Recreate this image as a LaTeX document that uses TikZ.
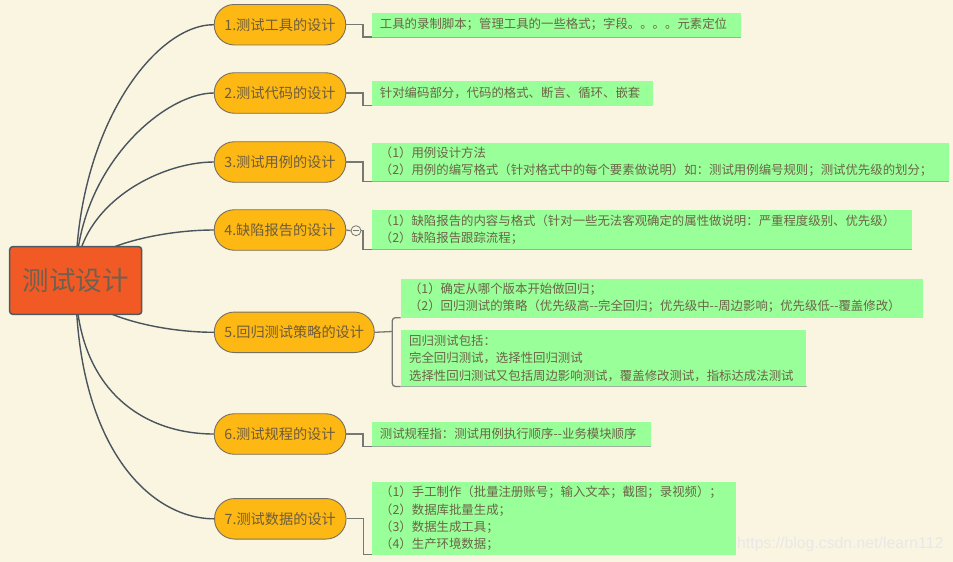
\documentclass[tikz,border=0pt]{standalone}
\usepackage{fontspec}
\setmainfont{Noto Sans CJK SC}
\newfontfamily\wmfont{Liberation Sans}
\usetikzlibrary{calc}
\definecolor{bgc}{RGB}{250,245,224}
\definecolor{rootfill}{RGB}{241,90,36}
\definecolor{rootline}{RGB}{80,88,96}
\definecolor{roottxt}{RGB}{112,96,80}
\definecolor{pillfill}{RGB}{253,184,19}
\definecolor{pillline}{RGB}{120,112,95}
\definecolor{pilltxt}{RGB}{110,92,60}
\definecolor{boxfill}{RGB}{153,255,153}
\definecolor{boxtxt}{RGB}{108,100,72}
\definecolor{curvec}{RGB}{74,84,94}
\definecolor{elbowc}{RGB}{118,120,115}
\definecolor{boxbot}{RGB}{160,175,155}
\pgfdeclarelayer{back}
\pgfdeclarelayer{lines}
\pgfsetlayers{back,lines,main}
\tikzset{
  rootbox/.style={draw=rootline, line width=1.5pt, fill=rootfill, rounded corners=3pt,
    minimum width=132pt, minimum height=67.6pt, inner sep=0pt,
    font=\fontsize{26.5}{30}\selectfont, text=roottxt},
  pill/.style={draw=pillline, line width=0.9pt, fill=pillfill, rounded corners=20pt,
    minimum height=40.5pt, minimum width=131.5pt, inner sep=0pt,
    font=\fontsize{14.2}{17}\selectfont, text=pilltxt},
  gbox/.style={fill=boxfill, anchor=north west, inner xsep=8pt, inner ysep=0pt,
    align=left, font=\fontsize{12.4}{17.3}\selectfont, text=boxtxt},
  curveline/.style={draw=curvec, line width=1.4pt},
  elbow/.style={draw=elbowc, line width=1.3pt},
  bottomline/.style={draw=boxbot, line width=1.2pt},
}
\begin{document}
\begin{tikzpicture}[x=1pt,y=-1pt]
\begin{pgfonlayer}{back}
\fill[bgc] (0,0) rectangle (953,562);
\end{pgfonlayer}
\useasboundingbox (0,0) rectangle (953,562);

% root
\node[rootbox] (root) at (75.7,280.5) {测试设计};

% topics
\node[pill] (t1) at (280,24.7) {1.测试工具的设计};
\node[pill] (t2) at (280,93) {2.测试代码的设计};
\node[pill] (t3) at (280,162) {3.测试用例的设计};
\node[pill] (t4) at (280,230) {4.缺陷报告的设计};
\node[pill, minimum width=160pt] (t5) at (294.3,332.3) {5.回归测试策略的设计};
\node[pill] (t6) at (280,434) {6.测试规程的设计};
\node[pill] (t7) at (280.3,518.8) {7.测试数据的设计};

% detail boxes
\node[gbox, minimum width=369pt, minimum height=24.4pt, text width=353pt] (b1) at (371.7,12.3)
  {工具的录制脚本；管理工具的一些格式；字段。。。。元素定位};
\node[gbox, minimum width=281pt, minimum height=24.6pt, text width=265pt] (b2) at (371.7,80.7)
  {针对编码部分，代码的格式、断言、循环、嵌套};
\node[gbox, minimum width=577pt, minimum height=38.7pt, text width=561pt] (b3) at (371.7,142.3)
  {（1）用例设计方法\\（2）用例的编写格式（针对格式中的每个要素做说明）如：测试用例编号规则；测试优先级的划分；};
\node[gbox, minimum width=540pt, minimum height=39pt, text width=524pt] (b4) at (371.7,210)
  {（1）缺陷报告的内容与格式（针对一些无法客观确定的属性做说明：严重程度级别、优先级）\\（2）缺陷报告跟踪流程；};
\node[gbox, minimum width=522.3pt, minimum height=39pt, text width=506pt] (b5a) at (400.7,278.3)
  {（1）确定从哪个版本开始做回归；\\（2）回归测试的策略（优先级高{-}{-}完全回归；优先级中{-}{-}周边影响；优先级低{-}{-}覆盖修改）};
\node[gbox, minimum width=405.5pt, minimum height=56pt, text width=389pt] (b5b) at (400.7,330)
  {回归测试包括：\\完全回归测试，选择性回归测试\\选择性回归测试又包括周边影响测试，覆盖修改测试，指标达成法测试};
\node[gbox, minimum width=279pt, minimum height=24pt, text width=263pt] (b6) at (371.7,422)
  {测试规程指：测试用例执行顺序{-}{-}业务模块顺序};
\node[gbox, minimum width=363.6pt, minimum height=72.3pt, text width=347pt] (b7) at (371.7,482)
  {（1）手工制作（批量注册账号；输入文本；截图；录视频）；\\（2）数据库批量生成；\\（3）数据生成工具；\\（4）生产环境数据；};

% collapse marker
\node[circle, draw=elbowc, line width=0.8pt, fill=bgc, minimum size=10pt, inner sep=0pt] (c4) at (356,230.7) {};
\draw[draw=elbowc, line width=0.8pt] ([xshift=2.5pt]c4.west) -- ([xshift=-2.5pt]c4.east);

\coordinate (k5) at (392.3,331.5);

\begin{pgfonlayer}{lines}
% curves from root
\draw[curveline] (root.center) .. controls +(0,-150) and +(-60,0) .. (t1.west);
\draw[curveline] (root.center) .. controls +(0,-112) and +(-50,0) .. (t2.west);
\draw[curveline] (root.center) .. controls +(0,-75) and +(-55,0) .. (t3.west);
\draw[curveline] (root.center) .. controls +(0,-30) and +(-60,0) .. (t4.west);
\draw[curveline] (root.center) .. controls +(0,31) and +(-60,0) .. (t5.west);
\draw[curveline] (root.center) .. controls +(0,110) and +(-70,0) .. (t6.west);
\draw[curveline] (root.center) .. controls +(0,165) and +(-65,0) .. (t7.west);
% box bottoms
\foreach \b in {b1,b2,b3,b4,b5a,b5b,b6,b7}
  \draw[bottomline] (\b.south west) -- (\b.south east);
% elbows
\draw[elbow] (t1.east) -- ++(16.7,0) |- (b1.south west);
\draw[elbow] (t2.east) -- ++(16.7,0) |- (b2.south west);
\draw[elbow] (t3.east) -- ++(16.7,0) |- (b3.south west);
\draw[elbow] (t4.east) -- (c4.west);
\draw[elbow] (c4.east) -- ++(1.7,0) |- (b4.south west);
\draw[elbow] (t5.east) -- (k5);
\draw[elbow, rounded corners=3pt] (b5a.south west) -| (k5) |- (b5b.south west);
\draw[elbow] (t6.east) -- ++(16.7,0) |- (b6.south west);
\draw[elbow] (t7.east) -- ++(16.7,0) |- (b7.south west);
\end{pgfonlayer}

% watermark
\node[anchor=west, inner sep=0pt, font=\wmfont\fontsize{15.8}{16}\selectfont, text=white!82!gray] (wm) at (737,544) {https://blog.csdn.net/learn112};
\end{tikzpicture}
\end{document}
